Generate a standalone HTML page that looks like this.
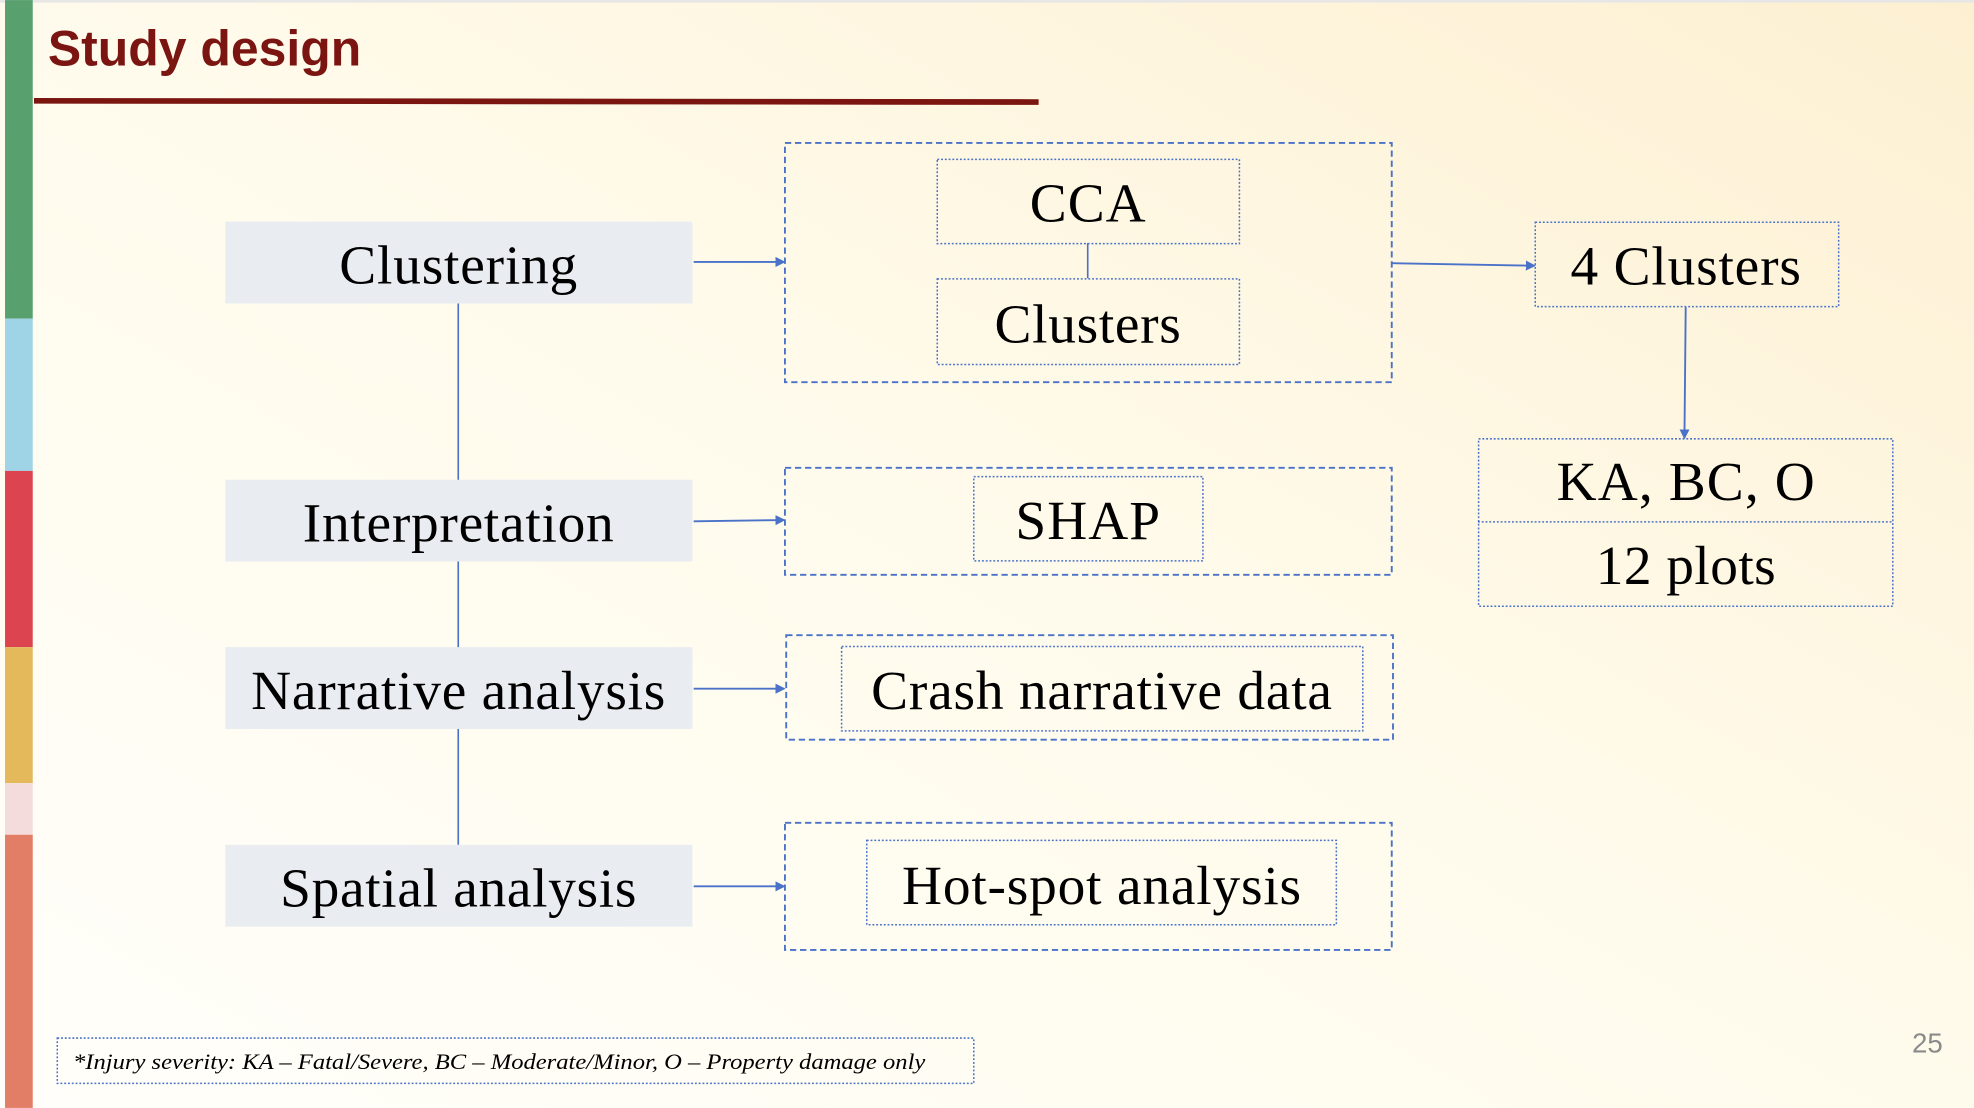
<!DOCTYPE html>
<html><head><meta charset="utf-8"><style>
html,body{margin:0;padding:0;width:1974px;height:1108px;overflow:hidden}
svg{display:block}
</style></head><body>
<svg width="1974" height="1108" viewBox="0 0 1568 880" xmlns="http://www.w3.org/2000/svg">
<defs>
<linearGradient id="bg" x1="0" y1="1" x2="1" y2="0">
<stop offset="0" stop-color="#fffefa"/><stop offset="0.5" stop-color="#fffbec"/><stop offset="1" stop-color="#fdf0d2"/>
</linearGradient>
<marker id="ah" markerWidth="8" markerHeight="8" refX="7" refY="4" orient="auto" markerUnits="userSpaceOnUse">
<path d="M0,0 L8,4 L0,8 z" fill="#4a72c8"/></marker>
</defs>
<rect width="1568" height="880" fill="url(#bg)"/>
<rect x="0" y="0" width="1568" height="2" fill="#e6e6e6"/>
<rect x="4" y="0" width="22" height="253" fill="#58a06e"/>
<rect x="4" y="253" width="22" height="121" fill="#9fd3e6"/>
<rect x="4" y="374" width="22" height="140" fill="#dc4550"/>
<rect x="4" y="514" width="22" height="108" fill="#e3b95c"/>
<rect x="4" y="622" width="22" height="41" fill="#f3dcdb"/>
<rect x="4" y="663" width="22" height="217" fill="#e27d66"/>
<text x="38" y="52" font-family="Liberation Sans, sans-serif" font-weight="bold" font-size="40" fill="#7a1512" textLength="249" lengthAdjust="spacingAndGlyphs">Study design</text>
<path d="M27 80 L825 81" stroke="#7a1510" stroke-width="4.5"/>
<g fill="#e9ecf1">
<rect x="179" y="176" width="371" height="65"/>
<rect x="179" y="381" width="371" height="65"/>
<rect x="179" y="514" width="371" height="65"/>
<rect x="179" y="671" width="371" height="65"/>
</g>
<g stroke="#4a72c8" stroke-width="1.3" fill="none">
<line x1="364" y1="241" x2="364" y2="381"/>
<line x1="364" y1="446" x2="364" y2="514"/>
<line x1="364" y1="579" x2="364" y2="671"/>
<line x1="864" y1="193" x2="864" y2="221"/>
</g>
<g stroke="#4a72c8" stroke-width="1.5" fill="none" stroke-dasharray="5,3">
<rect x="623.5" y="113.5" width="482" height="190"/>
<rect x="623.5" y="371.5" width="482" height="85"/>
<rect x="624.5" y="504.5" width="482" height="83"/>
<rect x="623.5" y="653.5" width="482" height="101"/>
</g>
<g stroke="#4a72c8" stroke-width="1.2" fill="none" stroke-dasharray="1.5,1.5">
<rect x="744.5" y="126.5" width="240" height="67"/>
<rect x="744.5" y="221.5" width="240" height="68"/>
<rect x="773.5" y="378.5" width="182" height="67"/>
<rect x="668.5" y="513.5" width="414" height="67"/>
<rect x="688.5" y="667.5" width="373" height="67"/>
<rect x="1219.5" y="176.5" width="241" height="67"/>
<rect x="1174.5" y="348.5" width="329" height="133"/>
<line x1="1174" y1="414.5" x2="1504" y2="414.5"/>
<rect x="45.5" y="824.5" width="728" height="36"/>
</g>
<g stroke="#4a72c8" stroke-width="1.5" fill="none" marker-end="url(#ah)">
<line x1="551" y1="208" x2="623" y2="208"/>
<line x1="551" y1="414" x2="623" y2="413"/>
<line x1="551" y1="547" x2="623" y2="547"/>
<line x1="551" y1="704" x2="623" y2="704"/>
<line x1="1106" y1="209" x2="1219" y2="211"/>
<line x1="1339" y1="244" x2="1338" y2="348"/>
</g>
<g font-family="Liberation Serif, serif" font-size="44" fill="#000" text-anchor="middle" lengthAdjust="spacingAndGlyphs">
<text x="364" y="225" textLength="189">Clustering</text>
<text x="364" y="430" textLength="247">Interpretation</text>
<text x="364" y="563" textLength="329">Narrative analysis</text>
<text x="364" y="720" textLength="283">Spatial analysis</text>
<text x="864" y="176" textLength="92">CCA</text>
<text x="864" y="272" textLength="148">Clusters</text>
<text x="864" y="428" textLength="115">SHAP</text>
<text x="875" y="563" textLength="366">Crash narrative data</text>
<text x="875" y="718" textLength="317">Hot-spot analysis</text>
<text x="1339" y="226" textLength="183">4 Clusters</text>
<text x="1339" y="397" textLength="205">KA, BC, O</text>
<text x="1339" y="464" textLength="143">12 plots</text>
</g>
<text x="58" y="849" font-family="Liberation Serif, serif" font-style="italic" font-size="18" fill="#000" textLength="677" lengthAdjust="spacingAndGlyphs">*Injury severity: KA – Fatal/Severe, BC – Moderate/Minor, O – Property damage only</text>
<text x="1531" y="836" font-family="Liberation Sans, sans-serif" font-size="22" fill="#8a8a8a" text-anchor="middle">25</text>
</svg>
</body></html>
